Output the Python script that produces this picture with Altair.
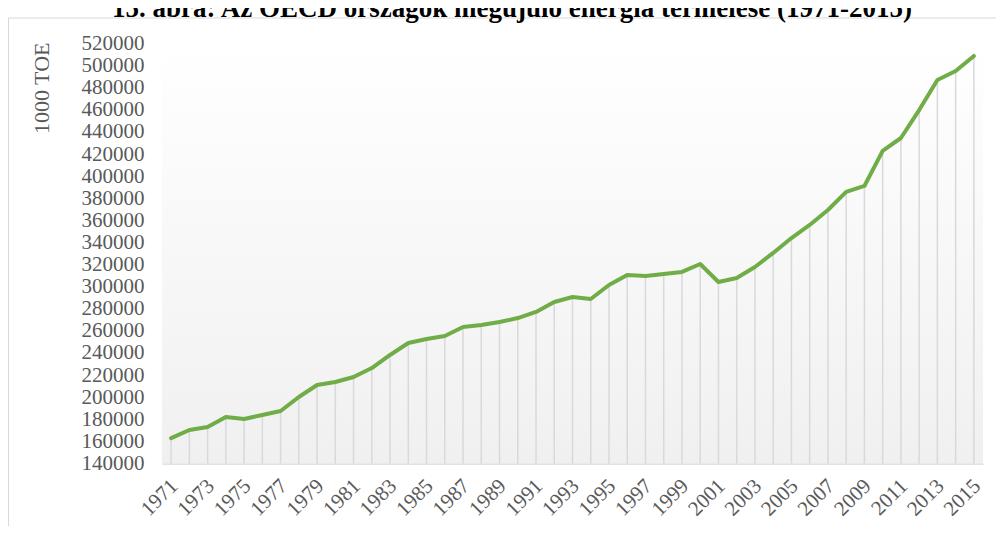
import altair as alt
import pandas as pd

years = [str(y) for y in range(1971, 2016)]
production = [163000, 170300, 173000, 182000, 180300, 183900, 187500, 200200, 211000, 213700,
              218300, 226400, 238200, 249000, 252600, 255400, 263500, 265300, 268000, 271600,
              277100, 286100, 290600, 288800, 301500, 310600, 309700, 311500, 313300, 320500,
              304200, 307800, 317800, 330500, 344000, 355800, 369400, 385700, 391100, 422800,
              434500, 459800, 487000, 495100, 508700]
x_tick_labels = ["1971", "1973", "1975", "1977", "1979", "1981", "1983", "1985", "1987", "1989",
                 "1991", "1993", "1995", "1997", "1999", "2001", "2003", "2005", "2007", "2009",
                 "2011", "2013", "2015"]
y_ticks = [140000, 160000, 180000, 200000, 220000, 240000, 260000, 280000, 300000, 320000,
           340000, 360000, 380000, 400000, 420000, 440000, 460000, 480000, 500000, 520000]
y_min, y_max = 140000, 520000
title_text = "15. ábra: Az OECD országok megújuló energia termelése (1971-2015)"
y_title = "1000 TOE"

W, H = 821, 420
FONT = "Liberation Serif"
GRAY = "#595959"

df = pd.DataFrame({"year": years, "value": production})
one = pd.DataFrame({"k": [0]})

xenc = alt.X("year:O", sort=None,
             scale=alt.Scale(type="point", padding=0.5),
             axis=alt.Axis(title=None, values=x_tick_labels, labelAngle=315,
                           labelAlign="right", labelBaseline="middle", labelPadding=19,
                           labelOffset=3,
                           labelFont=FONT, labelFontSize=21, labelColor=GRAY,
                           ticks=False, domain=True, domainColor="#d9d9d9", domainWidth=1.5,
                           grid=False))
yenc = alt.Y("value:Q",
             scale=alt.Scale(domain=[y_min, y_max], nice=False, zero=False),
             axis=alt.Axis(title=y_title, values=y_ticks, format="d",
                           labelFont=FONT, labelFontSize=21, labelColor=GRAY,
                           labelPadding=18, labelBaseline="middle",
                           ticks=False, domain=False, grid=False,
                           titleFont=FONT, titleFontSize=22, titleColor=GRAY,
                           titleFontWeight="normal", titleAngle=270,
                           titleAlign="right", titleBaseline="alphabetic",
                           titleX=-114, titleY=-1.5))

bg = alt.Chart(one).mark_rect(
    color=alt.LinearGradient(gradient="linear", x1=0, y1=0, x2=0, y2=1,
                             stops=[alt.GradientStop(color="#ffffff", offset=0),
                                    alt.GradientStop(color="#f0f0f0", offset=1)])
).encode(x=alt.value(0), x2=alt.value(W), y=alt.value(0), y2=alt.value(H))

frame = alt.Chart(one).mark_rect(fillOpacity=0, stroke="#d9d9d9", strokeWidth=1).encode(
    x=alt.value(-153.5), x2=alt.value(W + 60), y=alt.value(-25.5), y2=alt.value(H + 200))

drops = alt.Chart(df).mark_rule(color="#d9d9d9", strokeWidth=1.5).encode(
    x=xenc, y=yenc, y2=alt.datum(y_min))

line = alt.Chart(df).mark_line(color="#70ad47", strokeWidth=4, strokeJoin="round",
                               strokeCap="round").encode(x=xenc, y=yenc)

title = alt.Chart(one).mark_text(text=title_text, font=FONT, fontSize=27, fontWeight="bold",
                                 color="#000000", align="center", baseline="alphabetic").encode(
    x=alt.value(350), y=alt.value(-27))

chart = alt.layer(bg, frame, drops, line, title).properties(
    width=W, height=H,
    autosize=alt.AutoSizeParams(type="none"),
    padding={"left": 154, "top": 35.5, "right": 13, "bottom": 62},
).configure_view(strokeWidth=0)

chart.save("out.html", embed_options={"renderer": "svg", "actions": False})
